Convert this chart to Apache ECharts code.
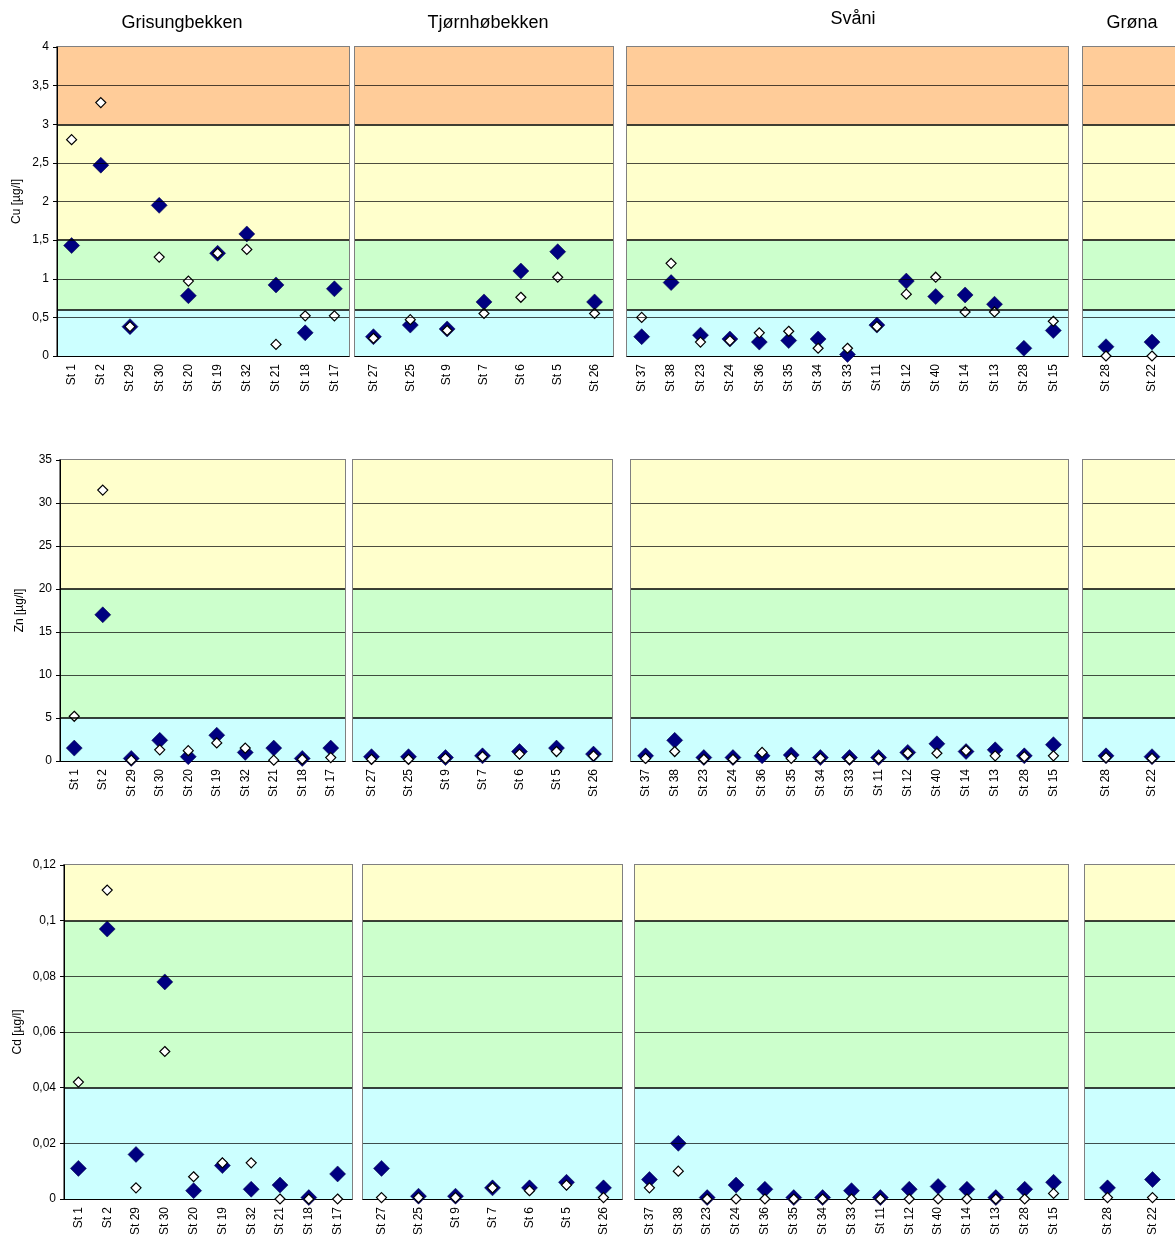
<!DOCTYPE html>
<html><head><meta charset="utf-8">
<script src="https://cdn.jsdelivr.net/npm/echarts@6/dist/echarts.min.js"></script>
<style>html,body{margin:0;padding:0;background:#fff}#c{width:1175px;height:1251px}</style>
</head><body><div id="c"></div>
<script>
const catsGris = ['St 1','St 2','St 29','St 30','St 20','St 19','St 32','St 21','St 18','St 17'];
const catsTjorn = ['St 27','St 25','St 9','St 7','St 6','St 5','St 26'];
const catsSvani = ['St 37','St 38','St 23','St 24','St 36','St 35','St 34','St 33','St 11','St 12','St 40','St 14','St 13','St 28','St 15'];
const catsGrona = ['St 28','St 22'];

const cuFilled = [[1.43,2.47,0.38,1.95,0.78,1.33,1.58,0.92,0.3,0.87],[0.25,0.4,0.35,0.7,1.1,1.35,0.7],[0.25,0.95,0.27,0.22,0.18,0.2,0.22,0.02,0.4,0.97,0.77,0.79,0.67,0.1,0.33],[0.12,0.18]];
const cuOpen = [[2.8,3.28,0.38,1.28,0.97,1.33,1.38,0.15,0.52,0.52],[0.23,0.47,0.33,0.55,0.76,1.02,0.55],[0.5,1.2,0.18,0.2,0.3,0.32,0.1,0.1,0.38,0.8,1.02,0.57,0.57,-0.02,0.45],[0.0,0.0]];
const znFilled = [[1.5,17,0.3,2.4,0.5,3.0,1.0,1.5,0.3,1.5],[0.5,0.5,0.4,0.6,1.1,1.5,0.8],[0.6,2.4,0.4,0.4,0.6,0.7,0.4,0.4,0.4,1.0,2.0,1.1,1.3,0.6,1.9],[0.6,0.5]];
const znOpen = [[5.2,31.5,0.1,1.3,1.2,2.1,1.5,0.1,0.2,0.4],[0.2,0.2,0.3,0.5,0.8,1.1,0.6],[0.3,1.1,0.2,0.2,1.0,0.3,0.3,0.2,0.3,0.9,0.9,1.2,0.6,0.5,0.6],[0.4,0.3]];
const cdFilled = [[0.011,0.097,0.016,0.078,0.003,0.012,0.0035,0.005,0.0005,0.009],[0.011,0.001,0.001,0.004,0.004,0.006,0.004],[0.007,0.02,0.0005,0.005,0.0035,0.0005,0.0005,0.003,0.0005,0.0035,0.0045,0.0035,0.0005,0.0035,0.006],[0.004,0.007]];
const cdOpen = [[0.042,0.111,0.004,0.053,0.008,0.013,0.013,0,0,0],[0.0005,0.0005,0.0005,0.004,0.003,0.005,0.0005],[0.004,0.010,0,0,0,0,0,0,0,0,0,0,0,0,0.002],[0.0005,0.0005]];

const cats = [catsGris,catsTjorn,catsSvani,catsGrona];
const titles = ['Grisungbekken','Tjørnhøbekken','Svåni','Grøna'];
const titleX = [177,483,848,1127];

const rows = [
 {name:'Cu [µg/l]', max:4, interval:0.5, top:47, bottom:356, xs:[[57,349],[355,613],[627,1068],[1083,1179]], bands:[[0,0.6,'#ccffff'],[0.6,1.5,'#ccffcc'],[1.5,3,'#ffffcc'],[3,4,'#ffcc99']], f:cuFilled, o:cuOpen, dec:1},
 {name:'Zn [µg/l]', max:35, interval:5, top:460, bottom:761, xs:[[60,345],[353,612],[631,1068],[1083,1179]], bands:[[0,5,'#ccffff'],[5,20,'#ccffcc'],[20,35,'#ffffcc']], f:znFilled, o:znOpen, dec:0},
 {name:'Cd [µg/l]', max:0.12, interval:0.02, top:865, bottom:1199, xs:[[64,352],[363,622],[635,1068],[1085,1181]], bands:[[0,0.04,'#ccffff'],[0.04,0.1,'#ccffcc'],[0.1,0.12,'#ffffcc']], f:cdFilled, o:cdOpen, dec:2}
];

const grid=[],xAxis=[],yAxis=[],series=[],title=[];
titles.forEach((t,i)=>title.push({text:t,left:titleX[i],top:i==2?5:9,textAlign:'center',textStyle:{fontFamily:'Liberation Sans',fontSize:18,fontWeight:'normal',color:'#000'}}));
let gi=0;
rows.forEach((r,ri)=>{
  const ticks=[]; for(let k=1;k*r.interval<r.max-1e-9;k++) ticks.push(+(k*r.interval).toFixed(4));
  r.xs.forEach((xx,pi)=>{
    grid.push({left:xx[0],width:xx[1]-xx[0],top:r.top,height:r.bottom-r.top,show:true,borderColor:'#808080',borderWidth:2,backgroundColor:'transparent'});
    xAxis.push({type:'category',gridIndex:gi,data:cats[pi],boundaryGap:true,axisTick:{show:false},axisLine:{lineStyle:{color:'#000'}},
      axisLabel:{rotate:90,interval:0,fontFamily:'Liberation Sans',fontSize:12,color:'#000',margin:8}});
    yAxis.push({type:'value',gridIndex:gi,min:0,max:r.max,interval:r.interval,
      name:pi==0?r.name:'',nameLocation:'middle',nameGap:pi==0?(ri==2?40:34):0,nameTextStyle:{fontFamily:'Liberation Sans',fontSize:12,color:'#000'},
      splitLine:{show:false},axisTick:{show:pi==0,length:4,lineStyle:{color:'#000'}},
      axisLine:{show:pi==0,lineStyle:{color:'#000'}},
      axisLabel:{show:pi==0,fontFamily:'Liberation Sans',fontSize:12,color:'#000',formatter:v=>v==0?'0':(r.dec? (+v.toFixed(r.dec)).toString().replace('.',','):String(v))}});
    const bnd=r.bands.slice(1).map(b=>b[0]);
    series.push({type:'scatter',xAxisIndex:gi,yAxisIndex:gi,data:r.f[pi],symbol:'diamond',symbolSize:16,z:3,
      itemStyle:{color:'#000080',borderColor:'#000040',borderWidth:0.5,opacity:1},
      markArea:{silent:true,z:0,data:r.bands.map(b=>[{yAxis:b[0],itemStyle:{color:b[2],opacity:1}},{yAxis:b[1]}])},
      markLine:{silent:true,symbol:'none',label:{show:false},data:
        ticks.filter(t=>!bnd.some(b=>Math.abs(b-t)<1e-9)).map(t=>({yAxis:t,lineStyle:{color:'#000',width:0.7,type:'solid'}}))
        .concat(bnd.map(b=>({yAxis:b,lineStyle:{color:'#000',width:1.6,type:'solid'}})))}});
    series.push({type:'scatter',xAxisIndex:gi,yAxisIndex:gi,data:r.o[pi],symbol:'diamond',symbolSize:10,z:4,
      itemStyle:{color:'#fff',borderColor:'#000',borderWidth:1.2,opacity:1}});
    gi++;
  });
});
const ch=echarts.init(document.getElementById('c'));
ch.setOption({animation:false,backgroundColor:'#fff',title,grid,xAxis,yAxis,series});
</script></body></html>
